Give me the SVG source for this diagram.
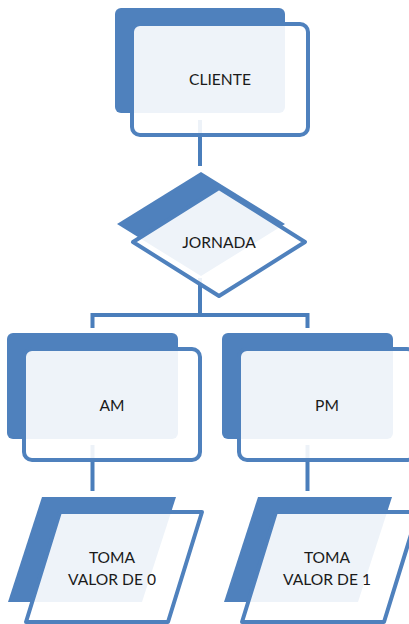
<svg xmlns="http://www.w3.org/2000/svg" width="409" height="624" viewBox="0 0 409 624">
<style>
.sh{fill:#4F81BD}
.fr{fill:#ffffff;fill-opacity:0.9;stroke:#4F81BD;stroke-width:4;stroke-linejoin:round}
.con{fill:none;stroke:#4A7EBB;stroke-width:4;stroke-linejoin:miter}
text{font-family:Lato,"Open Sans",sans-serif;font-size:15.6px;fill:#1a1a1a;text-anchor:middle}
</style>
<rect width="409" height="624" fill="#ffffff"/>
<g id="connectors">
<path class="con" d="M200,120 V166"/>
<path class="con" d="M200,278 V315"/>
<path class="con" d="M92.5,328 V315 H307.5 V328"/>
<path class="con" d="M92.5,445 V491"/>
<path class="con" d="M307.5,445 V491"/>
</g>
<g id="cliente">
<rect class="sh" x="115" y="8" width="170" height="105" rx="6"/>
<rect class="fr" x="132" y="24" width="176" height="111" rx="8"/>
<text x="220" y="85">CLIENTE</text>
</g>
<g id="jornada">
<polygon class="sh" points="201,172 285,224 201,276 117,224"/>
<polygon class="fr" points="219,188 305,242 219,296 133,242"/>
<text x="219" y="248">JORNADA</text>
</g>
<g id="am">
<rect class="sh" x="7" y="333" width="171" height="106" rx="6"/>
<rect class="fr" x="24" y="349" width="176" height="111" rx="8"/>
<text x="112" y="411">AM</text>
</g>
<g id="pm">
<rect class="sh" x="222" y="333" width="171" height="106" rx="6"/>
<rect class="fr" x="239" y="349" width="176" height="111" rx="8"/>
<text x="327" y="411">PM</text>
</g>
<g id="toma0">
<polygon class="sh" points="42,497 176,497 142,602 8,602"/>
<polygon class="fr" points="60,512 202,512 168,622 26,622"/>
<text x="112" y="563">TOMA</text>
<text x="112" y="585">VALOR DE 0</text>
</g>
<g id="toma1">
<polygon class="sh" points="258,497 392,497 358,602 224,602"/>
<polygon class="fr" points="276,512 418,512 384,622 242,622"/>
<text x="327" y="563">TOMA</text>
<text x="327" y="585">VALOR DE 1</text>
</g>
</svg>
